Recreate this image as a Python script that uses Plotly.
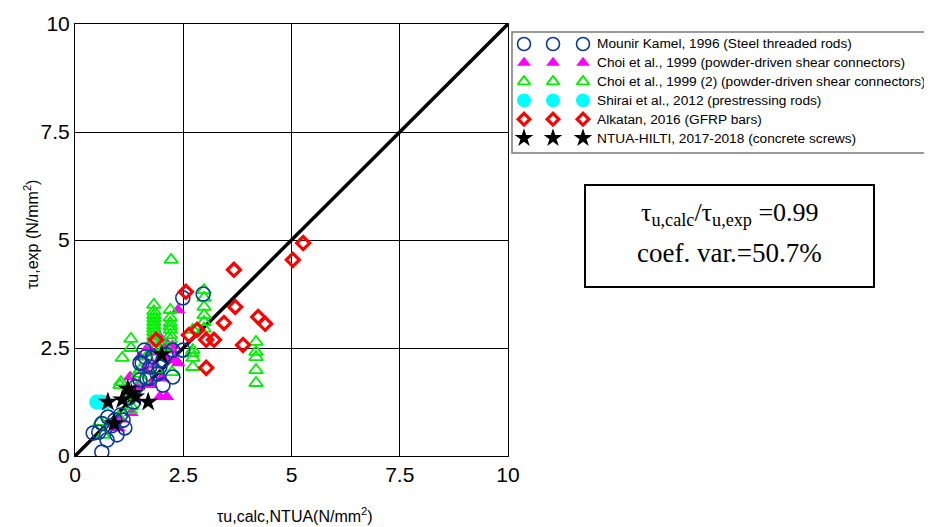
import plotly.graph_objects as go

# page is rendered with an 8px body margin, so layout is expressed in page pixels minus this offset
OFF = 8
W, H = 924, 519

# ---------------- data ----------------
series_names = [
    "Mounir Kamel, 1996 (Steel threaded rods)",
    "Choi et al., 1999 (powder-driven shear connectors)",
    "Choi et al., 1999 (2) (powder-driven shear connectors)",
    "Shirai et al., 2012 (prestressing rods)",
    "Alkatan, 2016 (GFRP bars)",
    "NTUA-HILTI, 2017-2018 (concrete screws)",
]

mk_x = [0.62, 0.42, 0.55, 0.74, 0.62, 0.76, 0.85, 0.92, 0.97, 1.11, 1.15, 1.05, 1.25, 1.40, 1.50, 1.50, 1.55,
        1.62, 1.66, 1.73, 1.73, 1.80, 1.90, 1.96, 2.03, 2.03, 2.10, 2.26, 2.26, 2.49, 2.49, 2.96, 1.60, 1.35]
mk_y = [0.09, 0.53, 0.55, 0.37, 0.75, 0.90, 0.70, 0.83, 0.49, 0.83, 0.65, 0.95, 1.35, 1.60, 1.76, 2.15, 2.15,
        2.29, 1.80, 2.06, 1.80, 2.30, 1.90, 2.06, 1.64, 2.22, 2.35, 1.83, 2.45, 2.45, 3.66, 3.75, 2.45, 1.25]

choi1_x = [0.85, 0.95, 1.00, 1.05, 1.15, 1.27, 1.30, 1.35, 1.45, 1.50, 1.60, 1.69, 1.75, 1.75, 1.85, 1.96,
           1.96, 2.00, 2.05, 2.12, 2.12, 2.20, 2.25, 2.31, 2.38, 2.38]
choi1_y = [0.75, 0.70, 0.65, 0.85, 1.37, 1.83, 1.00, 1.50, 1.60, 2.29, 2.00, 2.52, 2.40, 1.65, 2.10, 2.75,
           1.37, 1.80, 2.30, 1.37, 2.60, 2.45, 2.55, 2.22, 2.15, 3.38]

choi2_x = [2.22,
           1.82, 1.82, 1.82, 1.82, 1.82, 1.82, 1.82, 1.82, 1.82, 1.82, 1.82,
           2.20, 2.20, 2.20, 2.20, 2.20, 2.20, 2.20,
           2.98, 2.98, 2.98, 2.98, 2.98, 2.98,
           2.72, 2.72, 2.72, 2.72,
           4.18, 4.18, 4.18, 4.18, 4.18,
           1.29, 1.29, 1.09, 1.06, 1.04, 1.27, 0.58, 0.65,
           1.50, 1.89, 2.24, 2.08, 2.70, 1.45, 1.55, 1.30, 1.20, 1.00, 0.90, 1.65, 1.95]
choi2_y = [4.54,
           2.62, 2.70, 2.78, 2.87, 2.95, 3.02, 3.10, 3.18, 3.26, 3.35, 3.50,
           2.70, 2.80, 2.92, 3.00, 3.08, 3.20, 3.38,
           2.95, 3.10, 3.26, 3.45, 3.66, 3.84,
           2.92, 2.45, 2.27, 2.06,
           2.64, 2.41, 2.29, 1.99, 1.69,
           2.71, 2.50, 2.27, 1.71, 1.64, 1.06, 0.79, 0.49,
           1.99, 1.99, 1.94, 2.52, 2.38, 1.90, 1.75, 1.15, 1.30, 0.90, 0.75, 2.30, 2.45]

shirai_x = [0.50, 0.60, 0.68]
shirai_y = [1.25, 1.25, 1.24]

alk_x = [1.87, 2.56, 2.63, 2.82, 3.03, 3.21, 3.03, 3.44, 3.67, 3.70, 3.88, 4.23, 4.39, 5.03, 5.27]
alk_y = [2.69, 3.80, 2.80, 2.92, 2.69, 2.69, 2.04, 3.08, 4.31, 3.45, 2.57, 3.22, 3.06, 4.54, 4.93]

ntua_x = [0.76, 1.09, 1.22, 1.30, 1.39, 1.69, 2.00, 0.90]
ntua_y = [1.25, 1.30, 1.55, 1.45, 1.37, 1.25, 2.35, 0.75]

ref_line = [0, 10]
tick_vals = [0, 2.5, 5, 7.5, 10]
tick_text = ["0", "2.5", "5", "7.5", "10"]


def px(x):
    return (x - OFF) / W


def py(y):
    return 1 - (y - OFF) / H


# ---------------- styles ----------------
styles = [
    dict(symbol="circle-open", size=14, color="#0a3a9c", line=dict(width=1.6, color="#0a3a9c")),
    dict(symbol="triangle-up", size=13, color="#ff00ff", line=dict(width=0)),
    dict(symbol="triangle-up-open", size=12, color="#00f000", line=dict(width=1.8, color="#00f000")),
    dict(symbol="circle", size=15, color="#00ffff", line=dict(width=0)),
    dict(symbol="diamond-open", size=10, color="#ff0000", line=dict(width=3.2, color="#ff0000")),
    dict(symbol="star", size=15, color="#000000", line=dict(width=0)),
]
data_xy = [(mk_x, mk_y), (choi1_x, choi1_y), (choi2_x, choi2_y),
           (shirai_x, shirai_y), (alk_x, alk_y), (ntua_x, ntua_y)]
draw_order = [1, 2, 0, 3, 4, 5]

fig = go.Figure()

# 1:1 line
fig.add_trace(go.Scatter(x=ref_line, y=ref_line, mode="lines",
                         line=dict(color="black", width=3.5), showlegend=False,
                         hoverinfo="skip", xaxis="x", yaxis="y"))

for i in draw_order:
    xs, ys = data_xy[i]
    fig.add_trace(go.Scatter(x=xs, y=ys, mode="markers", name=series_names[i],
                             marker=styles[i], showlegend=False, xaxis="x", yaxis="y"))

# ---------------- manual legend (MATLAB style, three markers per entry) ----------------
LEG_X0, LEG_X1, LEG_Y0, LEG_Y1 = 512, 931, 32, 153
row0, row_step = 12, 18.8
mark_cols = [12, 41, 71]
text_col = 83
for i, name in enumerate(series_names):
    ry = row0 + row_step * i
    st = dict(styles[i])
    st["size"] = st["size"] - 1
    fig.add_trace(go.Scatter(x=mark_cols, y=[ry] * len(mark_cols), mode="markers",
                             marker=st, showlegend=False, hoverinfo="skip",
                             xaxis="x2", yaxis="y2", cliponaxis=False))
    fig.add_annotation(x=text_col, y=ry, xref="x2", yref="y2", text=name, showarrow=False,
                       xanchor="left", yanchor="middle",
                       font=dict(family="Liberation Sans, Arial", size=13.7, color="black"))

fig.add_shape(type="rect", xref="paper", yref="paper",
              x0=px(LEG_X0), x1=px(LEG_X1), y0=py(LEG_Y1), y1=py(LEG_Y0),
              line=dict(color="#7a7a7a", width=1.5))

# ---------------- statistics box ----------------
fig.add_shape(type="rect", xref="paper", yref="paper",
              x0=px(585), x1=px(874), y0=py(287), y1=py(185),
              line=dict(color="black", width=2))
fig.add_annotation(x=px(730), y=py(214), xref="paper", yref="paper", showarrow=False,
                   xanchor="center", yanchor="middle",
                   text="τ<sub>u,calc</sub>/τ<sub>u,exp</sub> =0.99",
                   font=dict(family="Liberation Serif, Times New Roman", size=26, color="black"))
fig.add_annotation(x=px(729), y=py(253), xref="paper", yref="paper", showarrow=False,
                   xanchor="center", yanchor="middle",
                   text="coef. var.=50.7%",
                   font=dict(family="Liberation Serif, Times New Roman", size=27, color="black"))

# ---------------- axis titles ----------------
fig.add_annotation(x=px(295), y=py(515), xref="paper", yref="paper", showarrow=False,
                   xanchor="center", yanchor="middle",
                   text="τu,calc,NTUA(N/mm<sup>2</sup>)",
                   font=dict(family="Liberation Sans, Arial", size=16, color="black"))
fig.add_annotation(x=px(31), y=py(235), xref="paper", yref="paper", showarrow=False,
                   xanchor="center", yanchor="middle",
                   text="τu,exp (N/mm<sup>2</sup>)", textangle=-90,
                   font=dict(family="Liberation Sans, Arial", size=16, color="black"))

axis_common = dict(range=[0, 10], tickvals=tick_vals, ticktext=tick_text,
                   showgrid=True, gridcolor="black", gridwidth=1,
                   showline=True, linecolor="black", linewidth=1, mirror=True,
                   zeroline=False, ticks="", automargin=False,
                   tickfont=dict(family="Liberation Sans, Arial", size=21, color="black"))

fig.update_layout(
    width=W, height=H,
    margin=dict(l=0, r=0, t=0, b=0),
    paper_bgcolor="white", plot_bgcolor="white",
    showlegend=False,
    xaxis=dict(domain=[px(75), px(508)], anchor="y", **axis_common),
    yaxis=dict(domain=[py(456), py(24)], anchor="x", **axis_common),
    xaxis2=dict(domain=[px(LEG_X0), px(LEG_X1)], range=[0, LEG_X1 - LEG_X0], anchor="y2",
                visible=False, fixedrange=True),
    yaxis2=dict(domain=[py(LEG_Y1), py(LEG_Y0)], range=[LEG_Y1 - LEG_Y0, 0], anchor="x2",
                visible=False, fixedrange=True),
)

fig.write_html("out.html")
